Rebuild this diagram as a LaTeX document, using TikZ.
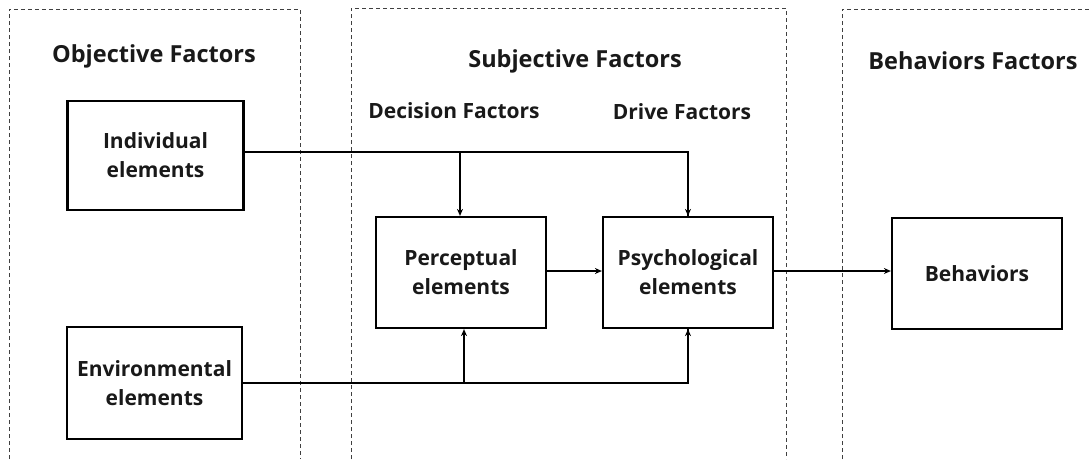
\documentclass[tikz,border=0pt]{standalone}
\usepackage{fontspec}
\setmainfont{Open Sans}
\usetikzlibrary{arrows.meta}
\begin{document}
\begin{tikzpicture}[x=1pt,y=-1pt,
  region/.style={draw=black!75,line width=0.9pt,dash pattern=on 4pt off 3pt},
  elem/.style={draw,line width=2.2pt,minimum width=176pt,minimum height=109pt,align=center,font=\fontsize{21}{29}\selectfont\bfseries,text=black!90,inner sep=0pt},
  head/.style={font=\fontsize{23.5}{28}\selectfont\bfseries,text=black!90,inner sep=0pt},
  subhead/.style={font=\fontsize{21}{26}\selectfont\bfseries,text=black!90,inner sep=0pt},
  conn/.style={line width=1.5pt},
  arr/.style={line width=1.5pt,-{Stealth[length=7pt,width=6pt]}}]
\useasboundingbox (0,0) rectangle (1090,459);
% regions
\draw[region] (9,459) -- (9,9) -- (300,9) -- (300,459);
\draw[region] (351,459) -- (351,8) -- (786,8) -- (786,459);
\draw[region] (842,459) -- (842,9) -- (1092,9);
% headings
\node[head] (hobj) at (154,56) {Objective Factors};
\node[head] (hsub) at (575,61) {Subjective Factors};
\node[subhead] (hdec) at (454,111) {Decision Factors};
\node[subhead] (hdrv) at (682,112) {Drive Factors};
\node[head] (hbeh) at (973,61) {Behaviors Factors};
% element boxes
\node[elem] (ind) at (155.5,155.5) {Individual\\elements};
\node[elem,minimum width=175pt,minimum height=112pt] (env) at (154.5,383) {Environmental\\elements};
\node[elem,minimum width=170pt,minimum height=111pt] (per) at (461,272.5) {Perceptual\\elements};
\node[elem,minimum width=170pt,minimum height=111pt] (psy) at (688,272.5) {Psychological\\elements};
\node[elem,minimum width=170pt,minimum height=111pt] (beh) at (977,273.5) {Behaviors};
% junctions
\coordinate (j1) at (460,152);
\coordinate (j2) at (464,383);
% connectors
\draw[conn] (ind.east |- j1) -- (j1) -| (psy.north);
\draw[arr] (j1) -- (j1 |- per.north);
\draw[arr] (psy.north |- j1) -- (psy.north);
\draw[conn] (env.east |- j2) -- (j2) -| (psy.south);
\draw[arr] (j2) -- (j2 |- per.south);
\draw[arr] (psy.south |- j2) -- (psy.south);
\draw[arr] (per.east |- 0,271) -- (psy.west |- 0,271);
\draw[arr] (psy.east |- 0,271) -- (beh.west |- 0,271);
\end{tikzpicture}
\end{document}
